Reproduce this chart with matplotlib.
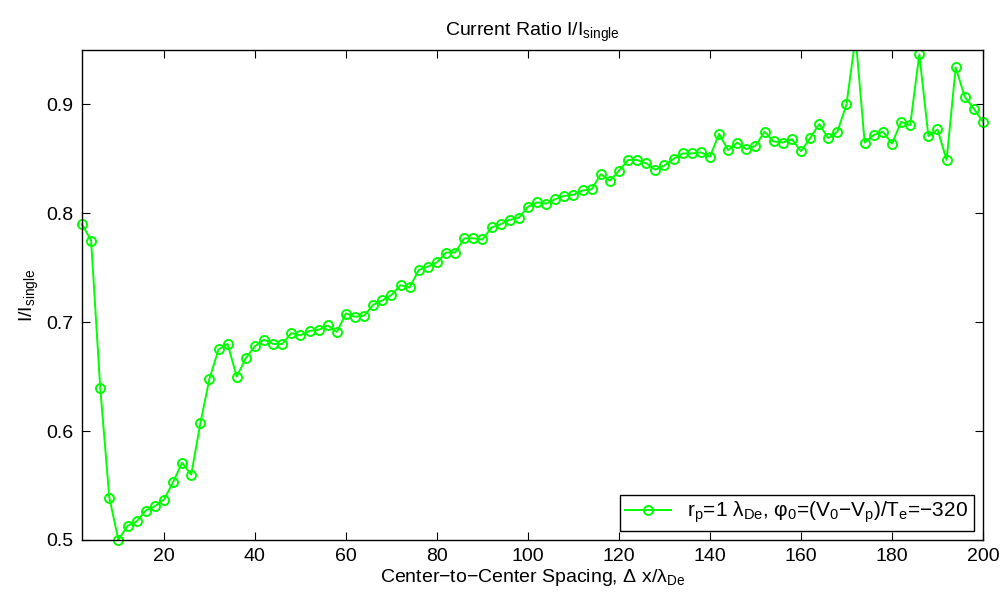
import matplotlib
matplotlib.use('Agg')
import matplotlib.pyplot as plt
from matplotlib.transforms import Bbox, TransformedBbox

plt.rcParams['font.family'] = ['Liberation Sans', 'DejaVu Sans']
plt.rcParams['mathtext.fontset'] = 'custom'
plt.rcParams['mathtext.rm'] = 'Liberation Sans'
plt.rcParams['mathtext.it'] = 'Liberation Sans:italic'

# center-to-center spacing (in Debye lengths)
spacing = list(range(2, 202, 2))

# current ratio I/I_single for r_p = 1 lambda_De, phi_0 = -320
ratio = [
    0.790, 0.775, 0.640, 0.539, 0.500, 0.513, 0.517, 0.527, 0.531, 0.537,
    0.553, 0.571, 0.560, 0.607, 0.648, 0.675, 0.680, 0.650, 0.667, 0.678,
    0.684, 0.680, 0.680, 0.690, 0.688, 0.692, 0.693, 0.697, 0.691, 0.708,
    0.705, 0.706, 0.716, 0.720, 0.725, 0.734, 0.732, 0.748, 0.751, 0.755,
    0.764, 0.764, 0.777, 0.777, 0.776, 0.787, 0.790, 0.794, 0.796, 0.806,
    0.810, 0.809, 0.813, 0.816, 0.817, 0.821, 0.822, 0.836, 0.830, 0.839,
    0.849, 0.849, 0.846, 0.840, 0.844, 0.850, 0.855, 0.855, 0.856, 0.852,
    0.873, 0.858, 0.865, 0.859, 0.862, 0.875, 0.866, 0.865, 0.868, 0.857,
    0.869, 0.882, 0.869, 0.875, 0.900, 0.962, 0.865, 0.872, 0.875, 0.864,
    0.884, 0.881, 0.946, 0.871, 0.877, 0.849, 0.934, 0.907, 0.896, 0.884,
]

xticks = [20, 40, 60, 80, 100, 120, 140, 160, 180, 200]
yticks = [0.5, 0.6, 0.7, 0.8, 0.9]

legend_label = (r'r$_{\rm p}$=1 λ$_{\rm De}$, φ$_{\rm 0}$=(V$_{\rm 0}$−V$_{\rm p}$)'
                r'/T$_{\rm e}$=−320')

fig = plt.figure(figsize=(10.03, 5.98), dpi=100)
ax = fig.add_axes([82/1003, 58/598, 901/1003, 490/598])

line, = ax.plot(spacing, ratio, color='#00ff00', linewidth=1.4, marker='o',
                markersize=6.5, markerfacecolor='none', markeredgewidth=1.4,
                label=legend_label)
# let edge markers overhang the left/right/bottom frame, but cut at the top
line.set_clip_box(TransformedBbox(Bbox([[-0.02, -0.03], [1.02, 1.0]]),
                                  ax.transAxes))

ax.set_xlim(2, 200)
ax.set_ylim(0.5, 0.95)
ax.set_xticks(xticks)
ax.set_yticks(yticks)
ax.set_yticklabels(['0.5', '0.6', '0.7', '0.8', '0.9'])
ax.tick_params(direction='in', length=6, width=0.8, top=True, right=True,
               labelsize=14, pad=6)
for s in ax.spines.values():
    s.set_linewidth(1.0)

ax.set_title(r'Current Ratio I/I$_{\rm single}$', fontsize=14, pad=10)
ax.set_xlabel(r'Center−to−Center Spacing, Δ x/λ$_{\rm De}$', fontsize=14,
              labelpad=1)
ax.set_ylabel(r'I/I$_{\rm single}$', fontsize=14, labelpad=4)

leg = ax.legend(loc='lower right', fontsize=15, fancybox=False,
                edgecolor='black', framealpha=1, handlelength=2.2,
                borderaxespad=0.45, borderpad=0.25)
leg.get_frame().set_linewidth(1.0)

plt.savefig('out.png', dpi=100)
